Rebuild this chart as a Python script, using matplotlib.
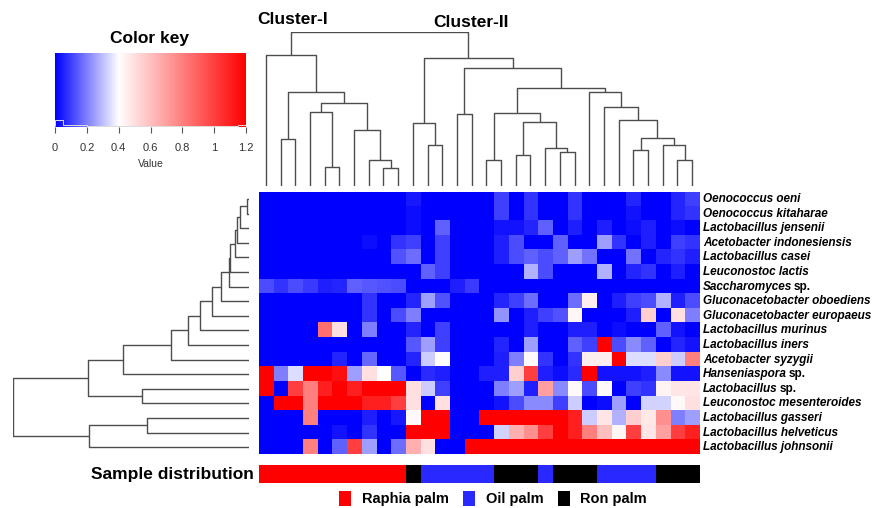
import matplotlib
matplotlib.use("Agg")
import matplotlib.pyplot as plt
import numpy as np
from matplotlib.colors import LinearSegmentedColormap, ListedColormap
from matplotlib.patches import Patch

plt.rcParams['font.family'] = ['Liberation Sans', 'DejaVu Sans']

# ---- data ----
species = [
    'Oenococcus oeni', 'Oenococcus kitaharae', 'Lactobacillus jensenii',
    'Acetobacter indonesiensis', 'Lactobacillus casei', 'Leuconostoc lactis',
    'Saccharomyces sp.', 'Gluconacetobacter oboediens', 'Gluconacetobacter europaeus',
    'Lactobacillus murinus', 'Lactobacillus iners', 'Acetobacter syzygii',
    'Hanseniaspora sp.', 'Lactobacillus sp.', 'Leuconostoc mesenteroides',
    'Lactobacillus gasseri', 'Lactobacillus helveticus', 'Lactobacillus johnsonii',
]

# relative abundance, one row per species, 30 samples (columns in dendrogram order)
abundance = [
    [0, 0, 0, 0, 0, 0, 0, 0, 0, 0, .04, 0, 0, 0, 0, 0, .10, 0, .08, 0, 0, .08, 0, 0, 0, .06, 0, 0, .06, .10],
    [0, 0, 0, 0, 0, 0, 0, 0, 0, 0, .02, 0, 0, 0, 0, 0, .10, 0, .08, 0, 0, .08, 0, 0, 0, .03, 0, 0, .06, .08],
    [0, 0, 0, 0, 0, 0, 0, 0, 0, 0, .02, 0, .15, 0, 0, 0, .03, .03, .06, .15, 0, .05, 0, .05, 0, .02, .05, 0, .02, 0],
    [0, 0, 0, 0, 0, 0, 0, .02, 0, .08, .10, 0, .10, 0, 0, 0, .05, .12, 0, 0, .15, 0, 0, .25, .08, 0, .05, 0, .10, .08],
    [0, 0, 0, 0, 0, 0, 0, 0, 0, .13, .17, 0, .10, 0, 0, 0, .05, .12, .15, .12, .15, .25, .18, 0, 0, .18, 0, .06, .08, .05],
    [0, 0, 0, 0, 0, 0, 0, 0, 0, 0, 0, .15, .10, 0, 0, 0, 0, 0, .28, .12, 0, 0, 0, .28, 0, .06, .08, 0, .05, 0],
    [.12, .08, .12, .09, .05, .06, .15, .14, .13, .12, 0, 0, 0, .05, .09, 0, 0, 0, 0, 0, 0, 0, 0, 0, 0, 0, 0, 0, 0, 0],
    [0, 0, 0, 0, 0, 0, 0, .08, 0, 0, .06, .25, .13, 0, 0, 0, .06, .10, .17, 0, 0, .17, .45, 0, .05, .10, .12, .28, .05, .12],
    [0, 0, 0, 0, 0, 0, 0, .08, 0, .12, .20, 0, 0, 0, 0, 0, .23, 0, .05, .10, .13, .43, 0, 0, 0, .05, .55, 0, .50, .20],
    [0, 0, 0, 0, .85, .50, 0, .20, 0, 0, .06, 0, .10, 0, 0, 0, 0, 0, .05, 0, 0, .05, .05, 0, .02, 0, 0, .15, .03, 0],
    [0, 0, 0, 0, 0, 0, 0, 0, 0, 0, .14, .25, .10, 0, 0, 0, .06, 0, .25, 0, 0, .15, .10, 1.2, .12, .22, .15, 0, .06, .03],
    [0, 0, 0, 0, 0, .06, 0, .16, 0, 0, .06, .32, .41, 0, 0, 0, .05, .20, .42, .08, 0, .08, .45, .45, 1.2, .35, .35, .55, .32, .80],
    [1.2, .20, .35, 1.2, 1.2, 1.15, .25, .50, .40, .14, 0, .07, .05, 0, 0, .05, .05, .55, 1.0, .05, .02, .07, 1.2, .03, .03, .03, .05, .22, .03, .03],
    [1.2, 0, 1.0, .80, 1.1, 1.2, 1.1, 1.2, 1.2, 1.2, .50, .32, .10, 0, 0, 0, .20, .25, .05, .70, .22, .42, .12, .42, 0, .10, .08, .44, .48, .48],
    [0, 1.2, 1.2, .80, 1.2, 1.2, 1.2, 1.1, 1.1, 1.0, .50, 0, .50, 0, 0, 0, .03, .12, .22, .22, .10, .32, 0, .02, .25, 0, .33, .33, .42, .50],
    [0, 0, 0, .80, 0, 0, 0, .05, 0, .04, .42, 1.2, 1.2, 0, 0, 1.2, 1.2, 1.2, 1.2, 1.2, 1.2, 1.1, .32, .48, .28, .55, .47, .75, .20, .25],
    [0, 0, 0, 0, 0, .03, 0, .08, 0, 0, 1.2, 1.2, 1.2, 0, 0, 0, .33, .65, .75, 1.0, 1.2, 1.1, .80, .60, .43, 1.0, .48, .70, 1.0, 1.1],
    [0, 0, 0, .80, 0, .15, 1.0, .25, 0, .17, .65, .50, 0, 0, 1.2, 1.2, 1.2, 1.2, 1.2, 1.2, 1.2, 1.2, 1.2, 1.2, 1.2, 1.2, 1.2, 1.2, 1.2, 1.2],
]

# palm type of every sample (same column order)
sample_groups = (['Raphia palm'] * 10 + ['Ron palm'] + ['Oil palm'] * 5 + ['Ron palm'] * 3
                 + ['Oil palm'] + ['Ron palm'] * 3 + ['Oil palm'] * 4 + ['Ron palm'] * 3)
group_names = ['Raphia palm', 'Oil palm', 'Ron palm']
group_colors = ['#ff0000', '#2828ff', '#000000']

# column clustering: (child a, child b, height), new nodes numbered from 30
col_merges = [
    (1, 2, 1.39), (4, 5, 0.55), (3, 31, 2.22), (8, 9, 0.52), (7, 33, 0.77),
    (6, 34, 1.67), (32, 35, 2.49), (30, 36, 2.80), (0, 37, 3.92),
    (11, 12, 1.23), (10, 39, 1.89), (13, 14, 2.15), (15, 16, 0.77), (17, 18, 0.92),
    (20, 21, 1.02), (19, 44, 1.13), (43, 45, 1.90), (42, 46, 2.17), (28, 29, 0.78),
    (27, 48, 1.21), (25, 26, 1.08), (50, 49, 1.44), (24, 51, 1.97), (23, 52, 2.35),
    (22, 53, 2.80), (47, 54, 2.92), (41, 55, 3.54), (40, 56, 3.82), (38, 57, 4.62),
]

# row clustering, new nodes numbered from 18
row_merges = [
    (0, 1, 0.08), (18, 2, 0.28), (19, 3, 0.37), (20, 4, 0.44), (21, 5, 0.58),
    (22, 6, 0.62), (23, 7, 0.85), (24, 8, 1.12), (25, 9, 1.47), (26, 10, 1.85),
    (27, 11, 2.35), (28, 12, 3.78), (13, 14, 3.23), (15, 16, 3.08),
    (29, 30, 4.83), (31, 17, 4.80), (32, 33, 7.10),
]

W, H = 873, 508
fig = plt.figure(figsize=(W / 100, H / 100), dpi=100)


def px_axes(x0, y0, x1, y1):
    return fig.add_axes([x0 / W, 1 - y1 / H, (x1 - x0) / W, (y1 - y0) / H])


def draw_dendro(ax, merges, n, side):
    pos = {i: i + 0.5 for i in range(n)}
    hgt = {i: 0.0 for i in range(n)}
    for k, (a, b, h) in enumerate(merges):
        pa, pb = pos[a], pos[b]
        xs = [pa, pa, pb, pb]
        ys = [hgt[a], h, h, hgt[b]]
        if side == 'top':
            ax.plot(xs, ys, color='#4d4d4d', lw=1.0, solid_capstyle='butt')
        else:
            ax.plot(ys, xs, color='#4d4d4d', lw=1.0, solid_capstyle='butt')
        pos[n + k] = (pa + pb) / 2
        hgt[n + k] = h


data = np.array(abundance)
nrow, ncol = data.shape
cmap = LinearSegmentedColormap.from_list('bwr_key', [(0, '#0000ff'), (1 / 3, '#ffffff'), (1, '#ff0000')])

# heatmap
ax = px_axes(258.5, 191.7, 699.5, 454.5)
ax.imshow(data, cmap=cmap, vmin=0, vmax=1.2, aspect='auto', interpolation='nearest',
          extent=(0, ncol, nrow, 0))
ax.set_axis_off()
for i, name in enumerate(species):
    italic = name[:-4] if name.endswith(' sp.') else name
    t = ax.text(ncol + 0.25, i + 0.5, italic, fontsize=8.5, fontweight='bold', style='italic',
                ha='left', va='center', clip_on=False)
    if name.endswith(' sp.'):
        ax.annotate('sp.', xy=(1, 0), xycoords=t, xytext=(1.2, 0), textcoords='offset points',
                    fontsize=8.5, fontweight='bold', ha='left', va='bottom')

# top dendrogram
axt = px_axes(258.5, 31.7, 699.5, 185.7)
draw_dendro(axt, col_merges, ncol, 'top')
axt.set_xlim(0, ncol)
axt.set_ylim(0, max(m[2] for m in col_merges))
axt.set_axis_off()
fig.text(293 / W, 1 - 20 / H, 'Cluster-I', fontsize=12.5, fontweight='bold', ha='center', va='center')
fig.text(471 / W, 1 - 22.5 / H, 'Cluster-II', fontsize=12.5, fontweight='bold', ha='center', va='center')

# left dendrogram
axl = px_axes(12.7, 191.7, 249.3, 454.5)
draw_dendro(axl, row_merges, nrow, 'left')
axl.set_ylim(nrow, 0)
axl.set_xlim(max(m[2] for m in row_merges), 0)
axl.set_axis_off()

# colour key
axk = px_axes(55, 53.3, 246, 127.3)
axk.imshow(np.linspace(0, 1.2, 256)[None, :], cmap=cmap, vmin=0, vmax=1.2, aspect='auto',
           extent=(0, 1.2, 0, 1))
counts, edges = np.histogram(data.ravel(), bins=24, range=(0, 1.2))
axk.stairs(counts / counts.max() * 0.08 + 0.02, edges, baseline=0.02, color='#dddddd', lw=0.7)
axk.set_xlim(0, 1.2)
axk.set_ylim(0, 1)
axk.set_yticks([])
axk.set_xticks([0, 0.2, 0.4, 0.6, 0.8, 1.0, 1.2])
axk.set_xticklabels(['0', '0.2', '0.4', '0.6', '0.8', '1', '1.2'])
axk.tick_params(axis='x', length=4.5, width=0.8, color='#555555', labelsize=8,
                labelcolor='#333333', pad=7)
axk.set_xlabel('Value', fontsize=7.5, color='#333333', labelpad=4)
for s in axk.spines.values():
    s.set_visible(False)
fig.text(149 / W, 1 - 38 / H, 'Color key', fontsize=12.5, fontweight='bold', ha='center', va='center')

# sample distribution bar
axs = px_axes(258.5, 464.5, 699.5, 483.5)
codes = [group_names.index(g) for g in sample_groups]
axs.imshow(np.array(codes)[None, :], cmap=ListedColormap(group_colors), vmin=-0.5, vmax=2.5,
           aspect='auto', interpolation='nearest', extent=(0, ncol, 0, 1))
axs.set_axis_off()
fig.text(254 / W, 1 - 474 / H, 'Sample distribution', fontsize=12.5, fontweight='bold',
         ha='right', va='center')

handles = [Patch(facecolor=c, edgecolor='none', label=g) for g, c in zip(group_names, group_colors)]
fig.legend(handles=handles, loc='center', bbox_to_anchor=(493 / W, 1 - 498.5 / H), ncol=3,
           frameon=False, prop={'size': 10.5, 'weight': 'bold'}, handlelength=0.85,
           handleheight=1.25, handletextpad=0.7, columnspacing=1.0, borderpad=0)

fig.savefig('out.png', dpi=100)
